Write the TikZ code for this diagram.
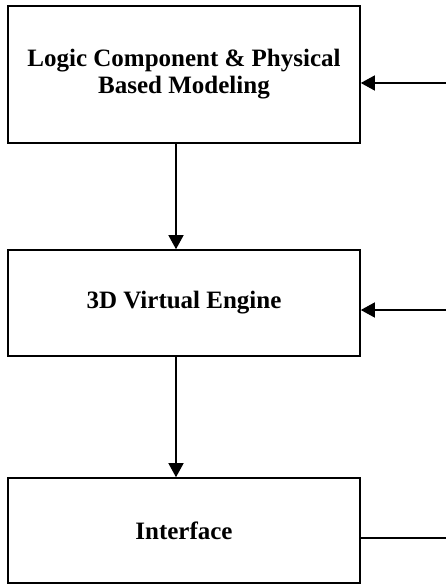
\documentclass[tikz,border=0pt]{standalone}
\usepackage{fontspec}
\setmainfont{Liberation Serif}
\usetikzlibrary{arrows.meta}
\begin{document}
\begin{tikzpicture}[x=1pt,y=-1pt,
  blk/.style={draw,line width=1.6pt,align=center,font=\fontsize{25}{27}\selectfont\bfseries},
  conn/.style={line width=1.4pt,-{Triangle[length=14pt,width=15pt]}}]
\useasboundingbox (0,0) rectangle (446,585);
\node[blk,minimum width=352pt,minimum height=137pt] (b1) at (184,74.5) {Logic Component \& Physical\\Based Modeling};
\node[blk,minimum width=352pt,minimum height=106pt] (b2) at (184,303) {3D Virtual Engine};
\node[blk,minimum width=352pt,minimum height=105pt] (b3) at (184,530.5) {Interface};
\coordinate (r1) at (446,83);
\coordinate (r2) at (446,310);
\coordinate (r3) at (446,538);
\draw[conn] (b1.south -| 176,0) -- (b2.north -| 176,0);
\draw[conn] (b2.south -| 176,0) -- (b3.north -| 176,0);
\draw[conn] (r1) -- (r1 -| b1.east);
\draw[conn] (r2) -- (r2 -| b2.east);
\draw[line width=1.4pt] (r3 -| b3.east) -- (r3);
\end{tikzpicture}
\end{document}
